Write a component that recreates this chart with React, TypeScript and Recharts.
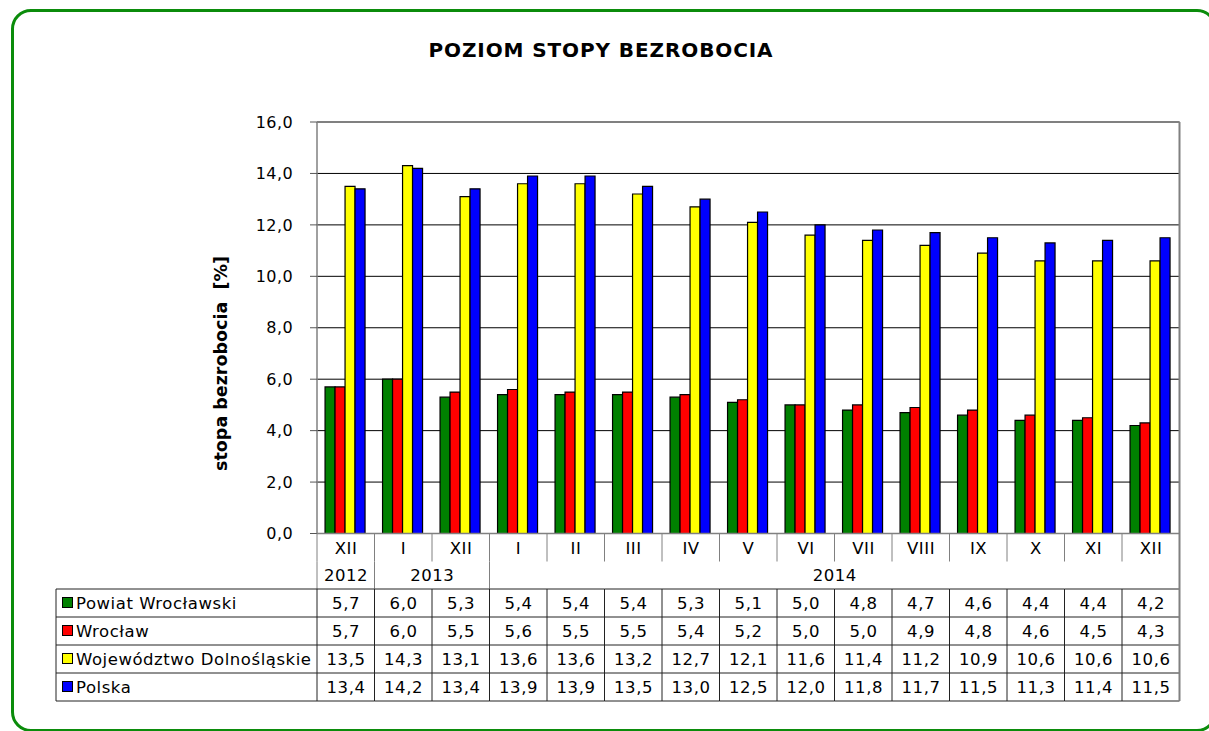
import React from 'react';
import { BarChart, Bar, XAxis, YAxis, CartesianGrid } from 'recharts';

// ---------- data ----------
const categories = ['XII', 'I', 'XII', 'I', 'II', 'III', 'IV', 'V', 'VI', 'VII', 'VIII', 'IX', 'X', 'XI', 'XII'];
const yearGroups = [
  { label: '2012', start: 0, span: 1 },
  { label: '2013', start: 1, span: 2 },
  { label: '2014', start: 3, span: 12 },
];
const powiat = [5.7, 6.0, 5.3, 5.4, 5.4, 5.4, 5.3, 5.1, 5.0, 4.8, 4.7, 4.6, 4.4, 4.4, 4.2];
const wroclaw = [5.7, 6.0, 5.5, 5.6, 5.5, 5.5, 5.4, 5.2, 5.0, 5.0, 4.9, 4.8, 4.6, 4.5, 4.3];
const wojewodztwo = [13.5, 14.3, 13.1, 13.6, 13.6, 13.2, 12.7, 12.1, 11.6, 11.4, 11.2, 10.9, 10.6, 10.6, 10.6];
const polska = [13.4, 14.2, 13.4, 13.9, 13.9, 13.5, 13.0, 12.5, 12.0, 11.8, 11.7, 11.5, 11.3, 11.4, 11.5];
const yTicks = [0, 2, 4, 6, 8, 10, 12, 14, 16];

const series = [
  { key: 'powiat', name: 'Powiat Wrocławski', color: '#008000', values: powiat },
  { key: 'wroclaw', name: 'Wrocław', color: '#ff0000', values: wroclaw },
  { key: 'woj', name: 'Województwo Dolnośląskie', color: '#ffff00', values: wojewodztwo },
  { key: 'polska', name: 'Polska', color: '#0000ff', values: polska },
];

const data = categories.map((c, i) => {
  const row: any = { key: i + '-' + c, idx: i };
  series.forEach((s) => (row[s.key] = s.values[i]));
  return row;
});

const fmt = (v: number) => v.toFixed(1).replace('.', ',');

// ---------- layout ----------
const W = 1209;
const H = 731;
const PLOT_LEFT = 317;
const PLOT_RIGHT = 1179.5;
const PLOT_TOP = 122;
const PLOT_BOTTOM = 533.5;
const COLW = (PLOT_RIGHT - PLOT_LEFT) / categories.length;
const TABLE_LEFT = 56;
const MONTH_H = 28;
const YEAR_END = 55.5;
const ROW_H = 28;
const FONT = '"DejaVu Sans", Verdana, sans-serif';
const GRID = '#808080';
const LINE = '#222';
const TFS = 16.5;
const LS = 0.55;

function CText(props: any) {
  const { x, y, children, anchor } = props;
  const isMid = anchor !== 'start';
  return (
    <text
      x={isMid ? x + LS / 2 : x}
      y={y}
      textAnchor={isMid ? 'middle' : 'start'}
      fontSize={TFS}
      fontFamily={FONT}
      fill="#000"
      letterSpacing={LS}
    >
      {children}
    </text>
  );
}

function TableTick(props: any) {
  const { x, y } = props;
  const i: number = props.index ?? props.payload?.index ?? 0;
  const left = x - COLW / 2;
  const right = x + COLW / 2;
  const y0 = y;
  const dataTop = y0 + YEAR_END;
  const tableBottom = dataTop + ROW_H * series.length;
  const group = yearGroups.find((g) => g.start === i);
  const last = i === categories.length - 1;
  const els: any[] = [];
  const base = 0.365 * TFS;

  // month row
  els.push(<line key="md" x1={left} x2={left} y1={y0} y2={y0 + MONTH_H} stroke={GRID} strokeWidth={1} />);
  els.push(
    <CText key="mt" x={x} y={y0 + MONTH_H / 2 + base}>
      {categories[i]}
    </CText>
  );
  // year row
  if (group) {
    els.push(<line key="yd" x1={left} x2={left} y1={y0 + MONTH_H} y2={dataTop} stroke={GRID} strokeWidth={1} />);
    els.push(
      <CText key="yt" x={x + ((group.span - 1) * COLW) / 2} y={y0 + (MONTH_H + YEAR_END) / 2 + base}>
        {group.label}
      </CText>
    );
  }
  // data rows
  els.push(<line key="dv" x1={left} x2={left} y1={dataTop} y2={tableBottom} stroke={LINE} strokeWidth={1} />);
  for (let k = 0; k <= series.length; k++) {
    const yy = dataTop + k * ROW_H;
    els.push(<line key={'h' + k} x1={left} x2={right} y1={yy} y2={yy} stroke={LINE} strokeWidth={1} />);
  }
  series.forEach((s, k) => {
    els.push(
      <CText key={'v' + k} x={x} y={dataTop + k * ROW_H + ROW_H / 2 + base}>
        {fmt(s.values[i])}
      </CText>
    );
  });

  if (i === 0) {
    // top frame of plot
    els.push(<line key="top" x1={left} x2={left + COLW * categories.length} y1={PLOT_TOP} y2={PLOT_TOP} stroke={GRID} strokeWidth={1.5} />);
    // legend column
    els.push(<line key="lv" x1={TABLE_LEFT} x2={TABLE_LEFT} y1={dataTop} y2={tableBottom} stroke={LINE} strokeWidth={1} />);
    for (let k = 0; k <= series.length; k++) {
      const yy = dataTop + k * ROW_H;
      els.push(<line key={'lh' + k} x1={TABLE_LEFT} x2={left} y1={yy} y2={yy} stroke={LINE} strokeWidth={1} />);
    }
    series.forEach((s, k) => {
      const cy = dataTop + k * ROW_H + ROW_H / 2;
      els.push(<rect key={'ls' + k} x={62.5} y={cy - 5.5} width={10} height={10} fill={s.color} stroke="#000" strokeWidth={1} />);
      els.push(
        <CText key={'lt' + k} anchor="start" x={76} y={cy + base}>
          {s.name}
        </CText>
      );
    });
  }
  if (last) {
    els.push(<line key="rb" x1={right} x2={right} y1={PLOT_TOP} y2={tableBottom} stroke={GRID} strokeWidth={2} />);
  }
  return <g>{els}</g>;
}

export default function App() {
  return (
    <div style={{ position: 'absolute', left: 0, top: 0, width: W, height: H, overflow: 'hidden', background: '#fff' }}>
      <div
        style={{
          position: 'absolute',
          left: 11,
          top: 9,
          width: 1206,
          height: 723,
          border: '3px solid #0b8c0b',
          borderRadius: 20,
          boxSizing: 'border-box',
        }}
      />
      <div style={{ position: 'absolute', left: 0, top: 0 }}>
        <BarChart
          width={W}
          height={H}
          data={data}
          margin={{ top: PLOT_TOP, right: W - PLOT_RIGHT, left: PLOT_LEFT - 60, bottom: 27.5 }}
          barCategoryGap="14%"
          barGap={0}
        >
          <CartesianGrid vertical={false} stroke="#000" strokeOpacity={1} />
          <XAxis
            dataKey="key"
            interval={0}
            height={H - PLOT_BOTTOM - 27.5}
            tickLine={false}
            tickSize={0}
            tickMargin={0}
            axisLine={{ stroke: GRID, strokeWidth: 1.5 }}
            tick={(p: any) => <TableTick {...p} />}
          />
          <YAxis
            width={60}
            domain={[0, 16]}
            ticks={yTicks}
            interval={0}
            tickFormatter={fmt}
            tickSize={7}
            tickMargin={17}
            axisLine={{ stroke: GRID, strokeWidth: 1.5 }}
            tickLine={{ stroke: '#555' }}
            tick={{ fill: '#000', fontSize: 16, fontFamily: FONT, letterSpacing: 0.4 }}
          />
          {series.map((s) => (
            <Bar key={s.key} dataKey={s.key} name={s.name} fill={s.color} stroke="#000" strokeWidth={1.2} isAnimationActive={false} />
          ))}
        </BarChart>
      </div>
      <svg width={W} height={H} style={{ position: 'absolute', left: 0, top: 0, pointerEvents: 'none' }}>
        <text x={601} y={57} textAnchor="middle" fontSize={20} fontWeight="bold" fontFamily={FONT} fill="#000" letterSpacing={0.9}>
          POZIOM STOPY BEZROBOCIA
        </text>
        <text transform="translate(226.5,363.5) rotate(-90)" textAnchor="middle" fontSize={17.5} fontWeight="bold" fontFamily={FONT} fill="#000" style={{ whiteSpace: 'pre' }}>
          {'stopa bezrobocia  [%]'}
        </text>
      </svg>
    </div>
  );
}
